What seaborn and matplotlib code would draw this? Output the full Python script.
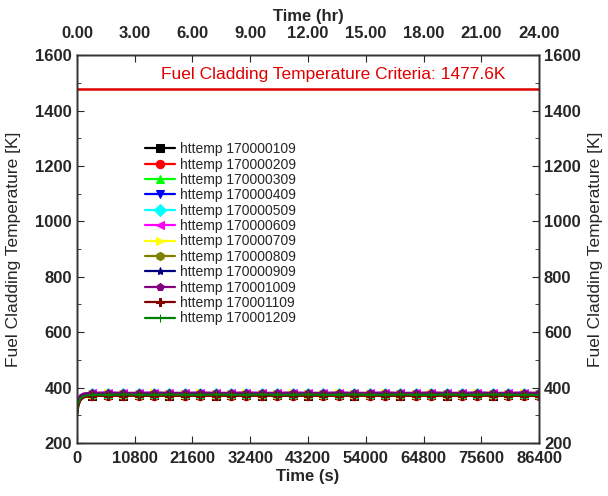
import numpy as np
import pandas as pd
import matplotlib
matplotlib.use("Agg")
import matplotlib.pyplot as plt
from matplotlib.ticker import MultipleLocator, FormatStrFormatter
import seaborn as sns

# time grid (s): start-up transient, then one point every 2880 s
time_s = [0, 240, 600, 1200, 2000,
          2880, 5760, 8640, 11520, 14400, 17280, 20160, 23040, 25920, 28800,
          31680, 34560, 37440, 40320, 43200, 46080, 48960, 51840, 54720, 57600,
          60480, 63360, 66240, 69120, 72000, 74880, 77760, 80640, 83520, 86400]

labels = ["httemp 170000109", "httemp 170000209", "httemp 170000309",
          "httemp 170000409", "httemp 170000509", "httemp 170000609",
          "httemp 170000709", "httemp 170000809", "httemp 170000909",
          "httemp 170001009", "httemp 170001109", "httemp 170001209"]

# cladding temperatures [K]
temps = [
    [300, 336, 355, 365, 369, 371, 372, 371, 372, 372, 371, 372, 372, 371, 372, 372, 371, 372,
     372, 371, 372, 372, 371, 372, 372, 371, 372, 372, 371, 372, 372, 371, 372, 372, 372],
    [305, 338, 356, 366, 369, 370, 371, 370, 371, 370, 371, 371, 370, 371, 370, 371, 371, 370,
     371, 370, 371, 371, 370, 371, 370, 371, 371, 370, 371, 370, 371, 371, 370, 371, 371],
    [312, 345, 362, 370, 373, 375, 375, 376, 375, 375, 376, 375, 375, 376, 375, 375, 376, 375,
     375, 376, 375, 375, 376, 375, 375, 376, 375, 375, 376, 375, 375, 376, 375, 375, 375],
    [318, 350, 366, 373, 376, 377, 378, 377, 377, 378, 377, 377, 378, 377, 377, 378, 377, 377,
     378, 377, 377, 378, 377, 377, 378, 377, 377, 378, 377, 377, 378, 377, 377, 378, 377],
    [315, 348, 364, 372, 375, 376, 376, 377, 376, 376, 377, 376, 376, 377, 376, 376, 377, 376,
     376, 377, 376, 376, 377, 376, 376, 377, 376, 376, 377, 376, 376, 377, 376, 376, 376],
    [325, 356, 370, 377, 379, 380, 381, 380, 380, 381, 380, 380, 381, 380, 380, 381, 380, 380,
     381, 380, 380, 381, 380, 380, 381, 380, 380, 381, 380, 380, 381, 380, 380, 381, 380],
    [322, 353, 368, 375, 377, 378, 379, 378, 378, 379, 378, 378, 379, 378, 378, 379, 378, 378,
     379, 378, 378, 379, 378, 378, 379, 378, 378, 379, 378, 378, 379, 378, 378, 379, 378],
    [316, 349, 365, 373, 375, 376, 377, 376, 376, 377, 376, 376, 377, 376, 376, 377, 376, 376,
     377, 376, 376, 377, 376, 376, 377, 376, 376, 377, 376, 376, 377, 376, 376, 377, 376],
    [323, 355, 369, 376, 378, 379, 380, 379, 379, 380, 379, 379, 380, 379, 379, 380, 379, 379,
     380, 379, 379, 380, 379, 379, 380, 379, 379, 380, 379, 379, 380, 379, 379, 380, 379],
    [328, 358, 372, 378, 380, 381, 382, 381, 381, 382, 381, 381, 382, 381, 381, 382, 381, 381,
     382, 381, 381, 382, 381, 381, 382, 381, 381, 382, 381, 381, 382, 381, 381, 382, 381],
    [298, 333, 353, 364, 368, 370, 370, 371, 370, 370, 371, 370, 370, 371, 370, 370, 371, 370,
     370, 371, 370, 370, 371, 370, 370, 371, 370, 370, 371, 370, 370, 371, 370, 370, 370],
    [310, 343, 360, 369, 372, 374, 374, 375, 374, 374, 375, 374, 374, 375, 374, 374, 375, 374,
     374, 375, 374, 374, 375, 374, 374, 375, 374, 374, 375, 374, 374, 375, 374, 374, 374],
]

colors = ["#000000", "#ff0000", "#00ff00", "#0000ff", "#00ffff", "#ff00ff",
          "#ffff00", "#808000", "#000080", "#800080", "#800000", "#008000"]
markers = ["s", "o", "^", "v", "D", "<", ">", "h", "*", "p", "P", "+"]

criteria = 1477.6
hr_ticks = [0, 3, 6, 9, 12, 15, 18, 21, 24]

sns.set_style("white")
plt.rcParams["font.family"] = ["Liberation Sans", "DejaVu Sans"]

fig = plt.figure(figsize=(6.08, 4.96), dpi=100)
ax = fig.add_axes([0.1266, 0.1069, 0.76, 0.782])

for lab, vals, c, m in zip(labels, temps, colors, markers):
    df = pd.DataFrame({"t": time_s, "T": vals})
    sns.lineplot(data=df, x="t", y="T", ax=ax, color=c, marker=m, markersize=6,
                 markeredgecolor=c, markevery=slice(5, None), linewidth=1.6,
                 label=lab)

ax.axhline(criteria, color="#e00000", linewidth=1.8)
ax.text(47900, 1503, "Fuel Cladding Temperature Criteria: 1477.6K",
        color="#e00000", fontsize=12.5, ha="center", va="bottom")

ax.set_xlim(0, 86400)
ax.set_ylim(200, 1600)
ax.set_xticks([0, 10800, 21600, 32400, 43200, 54000, 64800, 75600, 86400])
ax.yaxis.set_major_locator(MultipleLocator(200))
ax.yaxis.set_minor_locator(MultipleLocator(100))
ax.tick_params(axis="both", which="both", direction="in", labelsize=12)
ax.tick_params(which="major", length=5)
ax.tick_params(which="minor", length=3, left=True)
ax.tick_params(axis="x", pad=6)
for t in ax.get_xticklabels() + ax.get_yticklabels():
    t.set_fontweight("bold")
ax.set_xlabel("Time (s)", fontsize=12, fontweight="bold", labelpad=2)
ax.set_ylabel("Fuel Cladding Temperature [K]", fontsize=12.5, labelpad=10)

leg = ax.legend(loc="upper left", bbox_to_anchor=(0.135, 0.79), frameon=False,
                fontsize=10, handlelength=2.2, handletextpad=0.3, labelspacing=0.1,
                borderaxespad=0)

# right axis (same temperature scale)
axr = ax.twinx()
axr.set_ylim(200, 1600)
axr.yaxis.set_major_locator(MultipleLocator(200))
axr.yaxis.set_minor_locator(MultipleLocator(100))
axr.tick_params(axis="y", which="both", direction="in", labelsize=12)
axr.tick_params(which="major", length=5)
axr.tick_params(which="minor", length=3, right=True)
for t in axr.get_yticklabels():
    t.set_fontweight("bold")
axr.set_ylabel("Fuel Cladding Temperature [K]", fontsize=12.5, rotation=90, labelpad=5)

# top axis in hours
axt = ax.twiny()
axt.set_xlim(0, 24)
axt.set_xticks(hr_ticks)
axt.xaxis.set_major_formatter(FormatStrFormatter("%.2f"))
axt.tick_params(axis="x", direction="in", labelsize=12, length=5, pad=10)
for t in axt.get_xticklabels():
    t.set_fontweight("bold")
axt.set_xlabel("Time (hr)", fontsize=12, fontweight="bold", labelpad=4)

for a in (ax, axr, axt):
    for s in a.spines.values():
        s.set_color("#333333")
        s.set_linewidth(1.0)

fig.savefig("out.png", dpi=100)
